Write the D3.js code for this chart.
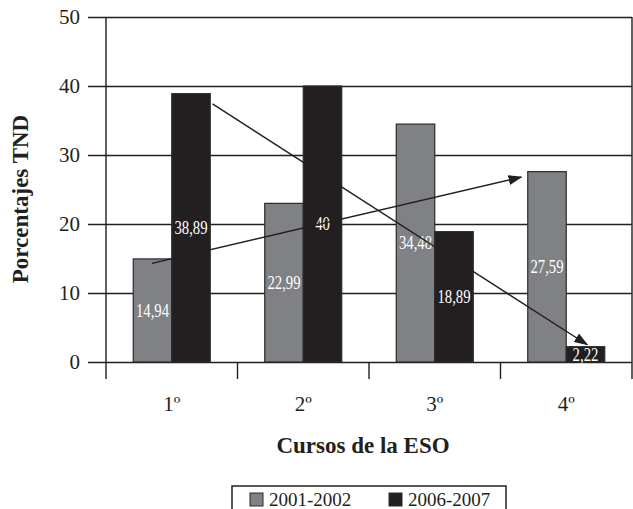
<!DOCTYPE html>
<html>
<head>
<meta charset="utf-8">
<script src="https://cdn.jsdelivr.net/npm/d3@7"></script>
<style>
  body { margin: 0; background: #fff; }
  svg { display: block; font-family: 'Liberation Serif', 'Times New Roman', serif; }
</style>
</head>
<body>
<svg id="chart"></svg>
<script>
// data
const cursos = ['1º', '2º', '3º', '4º'];
const series = ['2001-2002', '2006-2007'];
const values2001 = [14.94, 22.99, 34.48, 27.59];
const values2006 = [38.89, 40, 18.89, 2.22];
const labels2001 = ['14,94', '22,99', '34,48', '27,59'];
const labels2006 = ['38,89', '40', '18,89', '2,22'];
const yTicks = [0, 10, 20, 30, 40, 50];
// trend arrows, x in "course units" (0 = left edge of 1º), y in %
const arrow2001 = [[0.35, 14.3], [3.16, 26.8]];
const arrow2006 = [[0.81, 37.4], [3.66, 2.5]];

const width = 633;
const height = 509;
const plotLeft = 106, plotRight = 632, plotTop = 17, plotBottom = 362;
const gridLeft = 88;
const groupWidth = 77;

const colors = { '2001-2002': '#808184', '2006-2007': '#231f20' };
const ink = '#231f20';

const svg = d3.select('#chart')
  .attr('width', width)
  .attr('height', height);

let y = d3.scaleLinear()
  .domain([0, 50])
  .range([plotBottom, plotTop]);

let x = d3.scaleBand()
  .domain(cursos)
  .range([plotLeft, plotRight]);

let xu = d3.scaleLinear()
  .domain([0, cursos.length])
  .range([plotLeft, plotRight]);

let x1 = d3.scaleBand()
  .domain(series)
  .range([x.bandwidth() / 2 - groupWidth / 2, x.bandwidth() / 2 + groupWidth / 2]);

// gridlines + y tick labels
let yAxis = d3.axisLeft(y)
  .tickValues(yTicks)
  .tickSize(-(plotRight - gridLeft))
  .tickPadding(8);

const yg = svg.append('g')
  .attr('transform', 'translate(' + gridLeft + ',0)')
  .call(yAxis);
yg.select('.domain').remove();
yg.selectAll('line').attr('stroke', ink).attr('stroke-width', 1.4);
yg.selectAll('text')
  .attr('fill', ink)
  .style('font-size', '21px')
  .style('font-family', "'Liberation Serif', serif");

// left axis line and right frame
svg.append('line')
  .attr('x1', plotLeft).attr('x2', plotLeft)
  .attr('y1', plotTop).attr('y2', plotBottom + 17)
  .attr('stroke', ink).attr('stroke-width', 1.4);
svg.append('line')
  .attr('x1', plotRight).attr('x2', plotRight)
  .attr('y1', plotTop).attr('y2', plotBottom + 17)
  .attr('stroke', ink).attr('stroke-width', 1.4);

// separators between courses
svg.append('g')
  .selectAll('line')
  .data(cursos.slice(1))
  .enter()
  .append('line')
  .attr('x1', d => x(d)).attr('x2', d => x(d))
  .attr('y1', plotBottom).attr('y2', plotBottom + 17)
  .attr('stroke', ink).attr('stroke-width', 1.4);

// x labels
let xAxis = d3.axisBottom(x).tickSize(0).tickPadding(34);
const xg = svg.append('g')
  .attr('transform', 'translate(0,' + plotBottom + ')')
  .call(xAxis);
xg.select('.domain').remove();
xg.selectAll('text')
  .attr('fill', ink)
  .style('font-size', '21px')
  .style('font-family', "'Liberation Serif', serif");

// bars
const rows = cursos.map((c, i) => ({
  curso: c,
  bars: [
    { s: series[0], v: values2001[i], label: labels2001[i] },
    { s: series[1], v: values2006[i], label: labels2006[i] }
  ]
}));

let group = svg.append('g')
  .selectAll('g')
  .data(rows)
  .enter()
  .append('g')
  .attr('transform', d => 'translate(' + x(d.curso) + ',0)');

group.selectAll('rect')
  .data(d => d.bars)
  .enter()
  .append('rect')
  .attr('x', d => x1(d.s))
  .attr('width', x1.bandwidth())
  .attr('y', d => y(d.v))
  .attr('height', d => y(0) - y(d.v))
  .attr('fill', d => colors[d.s])
  .attr('stroke', '#2b2b2b')
  .attr('stroke-width', 1.2);

// arrows
svg.append('defs')
  .append('marker')
  .attr('id', 'head')
  .attr('viewBox', '0 0 14 10')
  .attr('refX', 13)
  .attr('refY', 5)
  .attr('markerUnits', 'userSpaceOnUse')
  .attr('markerWidth', 14)
  .attr('markerHeight', 10)
  .attr('orient', 'auto')
  .append('path')
  .attr('d', 'M0,0L14,5L0,10Z')
  .attr('fill', ink);

const line = d3.line()
  .x(d => xu(d[0]))
  .y(d => y(d[1]));

svg.append('g')
  .selectAll('path')
  .data([arrow2001, arrow2006])
  .enter()
  .append('path')
  .attr('d', line)
  .attr('fill', 'none')
  .attr('stroke', ink)
  .attr('stroke-width', 1.4)
  .attr('marker-end', 'url(#head)');

// value labels inside the bars
group.selectAll('text.val')
  .data(d => d.bars)
  .enter()
  .append('text')
  .attr('class', 'val')
  .attr('transform', d => 'translate(' + (x1(d.s) + x1.bandwidth() / 2) + ',' +
    ((y(d.v) + y(0)) / 2) + ') scale(0.82,1)')
  .attr('text-anchor', 'middle')
  .attr('dy', '0.35em')
  .attr('fill', '#fff')
  .style('font-size', '18px')
  .text(d => d.label);

// axis titles
svg.append('text')
  .attr('transform', 'translate(28,199) rotate(-90)')
  .attr('text-anchor', 'middle')
  .attr('fill', ink)
  .style('font-size', '23px')
  .style('font-weight', 'bold')
  .text('Porcentajes TND');

svg.append('text')
  .attr('x', 363)
  .attr('y', 453)
  .attr('text-anchor', 'middle')
  .attr('fill', ink)
  .style('font-size', '23px')
  .style('font-weight', 'bold')
  .text('Cursos de la ESO');

// legend
const legend = svg.append('g');
legend.append('rect')
  .attr('x', 232).attr('y', 486)
  .attr('width', 274).attr('height', 30)
  .attr('fill', '#fff')
  .attr('stroke', ink)
  .attr('stroke-width', 1.5);

let item = legend.selectAll('g')
  .data(series)
  .enter()
  .append('g')
  .attr('transform', (d, i) => 'translate(' + (250 + i * 139) + ',493)');

item.append('rect')
  .attr('width', 13).attr('height', 13)
  .attr('fill', d => colors[d])
  .attr('stroke', '#2b2b2b')
  .attr('stroke-width', 1);

item.append('text')
  .attr('x', 19)
  .attr('y', 13)
  .attr('fill', ink)
  .style('font-size', '19px')
  .text(d => d);
</script>
</body>
</html>
